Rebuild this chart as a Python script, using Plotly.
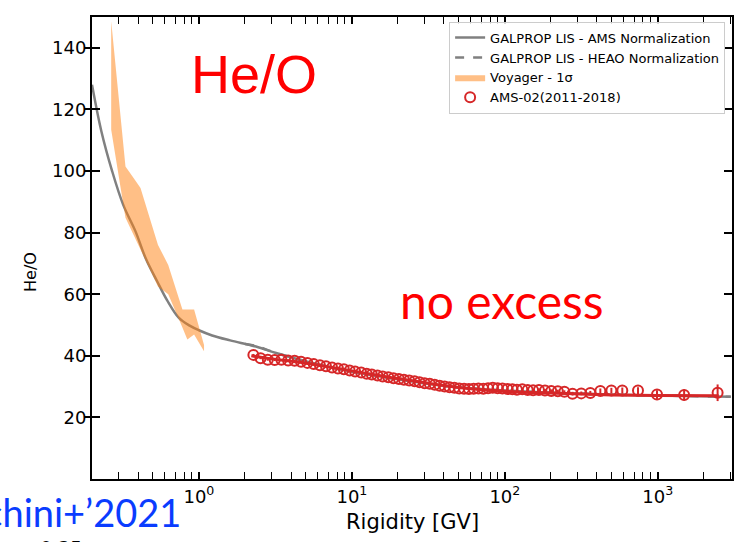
import plotly.graph_objects as go

# GALPROP LIS curves
gal_R = [0.2, 0.23, 0.271, 0.32, 0.385, 0.45, 0.533, 0.62, 0.74, 0.87, 1.0, 1.22, 1.6, 2.36, 3.2, 4.9, 7.5, 11, 20, 40, 80, 200, 500, 1000, 3000]
gal_ams = [128, 113, 99.9, 89, 80.4, 71.5, 64.2, 58.0, 52.3, 49.8, 48.3, 46.6, 45.0, 43.0, 40.9, 38.3, 36.1, 34.5, 32.4, 30.2, 29.0, 28.0, 27.4, 27.1, 26.7]
heao_R = [2.0, 2.36, 3.2, 4.9, 7.5, 11, 20, 40, 80, 200, 500, 1000, 3000]
heao_vals = [43.8, 43.2, 40.9, 38.3, 36.1, 34.5, 32.4, 30.2, 29.0, 28.0, 27.4, 27.1, 26.7]

# Voyager 1-sigma band
voy_R = [0.267, 0.331, 0.376, 0.415, 0.54, 0.63, 0.78, 0.84, 0.93, 1.08]
voy_hi = [148.6, 101.5, 97.6, 94.5, 76.0, 69.5, 55.0, 55.0, 55.0, 43.5]
voy_lo = [113.4, 84.8, 78.8, 74.5, 62.5, 60.0, 49.2, 45.3, 46.9, 41.5]

# AMS-02 (2011-2018)
ams_R = [2.27, 2.53, 2.82, 3.13, 3.46, 3.83, 4.22, 4.65, 5.12, 5.63, 6.18, 6.77, 7.42, 8.11, 8.86, 9.67,
         10.5, 11.5, 12.5, 13.5, 14.7, 15.9, 17.3, 18.7, 20.3, 21.9, 23.7, 25.7, 27.7, 29.9, 32.3, 34.8,
         37.5, 40.4, 43.5, 46.8, 50.3, 54.1, 58.2, 62.5, 67.2, 72.3, 77.7, 83.4, 89.7, 96.4, 104, 112,
         120, 130, 141, 153, 167, 183, 201, 222, 245, 277, 316, 362, 421, 497, 586, 742, 988, 1486, 2460]
ams_val = [40.3, 39.2, 38.7, 38.6, 38.7, 38.5, 38.4, 38.1, 37.7, 37.3, 36.9, 36.6, 36.2, 35.9, 35.6, 35.2,
           34.9, 34.6, 34.2, 33.9, 33.6, 33.3, 33.0, 32.7, 32.5, 32.2, 32.0, 31.7, 31.4, 31.1, 30.9, 30.6,
           30.3, 30.0, 29.8, 29.6, 29.4, 29.3, 29.2, 29.3, 29.4, 29.3, 29.5, 29.6, 29.5, 29.4, 29.2, 29.1,
           29.0, 29.1, 28.9, 28.8, 28.9, 28.7, 28.6, 28.5, 28.3, 27.7, 27.8, 27.9, 28.6, 28.7, 28.7, 28.7, 27.4, 27.3, 28.0]
ams_err = [0.3, 0.3, 0.3, 0.3, 0.3, 0.3, 0.3, 0.3, 0.3, 0.3, 0.3, 0.3, 0.3, 0.3, 0.3, 0.3,
           0.3, 0.3, 0.3, 0.3, 0.3, 0.3, 0.3, 0.3, 0.3, 0.3, 0.3, 0.3, 0.3, 0.3, 0.3, 0.3,
           0.3, 0.3, 0.3, 0.3, 0.3, 0.3, 0.3, 0.3, 0.3, 0.3, 0.3, 0.3, 0.3, 0.4, 0.4, 0.4,
           0.4, 0.4, 0.4, 0.4, 0.5, 0.5, 0.5, 0.5, 0.5, 0.6, 0.6, 0.7, 0.8, 0.9, 1.0, 1.1, 1.4, 1.8, 2.7]

# Fit through AMS data
fit_R = [2.2, 3, 5, 10, 20, 50, 100, 200, 500, 1000, 2500]
fit_val = [40.0, 39.0, 37.6, 35.1, 32.6, 29.7, 28.5, 27.9, 27.3, 27.1, 27.0]

major_vals = [1, 10, 100, 1000]
major_text = ["10<sup>0</sup>", "10<sup>1</sup>", "10<sup>2</sup>", "10<sup>3</sup>"]
minor_vals = [m * d for d in [0.1, 1, 10, 100, 1000] for m in range(2, 10)]
y_ticks = [20, 40, 60, 80, 100, 120, 140]

RED = "#d62728"
GRAY = "#808080"

fig = go.Figure()

fig.add_trace(go.Scatter(x=gal_R, y=gal_ams, mode="lines", line=dict(color=GRAY, width=2.5, shape="spline"),
                         name="GALPROP LIS - AMS Normalization"))
fig.add_trace(go.Scatter(x=heao_R, y=heao_vals, mode="lines", line=dict(color=GRAY, width=2.5, dash="dash", shape="spline"),
                         name="GALPROP LIS - HEAO Normalization"))
fig.add_trace(go.Scatter(x=voy_R + voy_R[::-1], y=voy_hi + voy_lo[::-1], mode="lines", fill="toself",
                         fillcolor="rgba(255,127,14,0.5)", line=dict(width=0, color="rgba(255,127,14,0)"),
                         name="Voyager - 1σ"))
fig.add_trace(go.Scatter(x=fit_R, y=fit_val, mode="lines", line=dict(color=RED, width=3, shape="spline"),
                         showlegend=False, hoverinfo="skip"))
fig.add_trace(go.Scatter(x=ams_R, y=ams_val, mode="markers",
                         marker=dict(symbol="circle-open", size=10, color=RED, line=dict(width=2, color=RED)),
                         error_y=dict(type="data", array=ams_err, color=RED, thickness=2, width=0),
                         name="AMS-02(2011-2018)"))
fig.add_trace(go.Scatter(x=[], y=[], yaxis="y2", showlegend=False, hoverinfo="skip"))

axis_font = dict(family="DejaVu Sans", size=18, color="black")

fig.update_layout(
    width=735, height=542,
    margin=dict(l=92, r=3, t=17, b=63, autoexpand=False),
    paper_bgcolor="white", plot_bgcolor="white",
    font=dict(family="DejaVu Sans", color="black"),
    showlegend=True,
    legend=dict(x=0.558, y=0.99, xanchor="left", yanchor="top",
                font=dict(family="DejaVu Sans", size=13, color="black"),
                bgcolor="rgba(255,255,255,0.85)", bordercolor="#cccccc", borderwidth=1,
                tracegroupgap=0, itemwidth=30),
    xaxis=dict(type="log", range=[-0.699, 3.485], showgrid=False, zeroline=False, automargin=False,
               showline=True, linecolor="black", linewidth=2, mirror="allticks",
               ticks="inside", ticklen=7, tickwidth=1.5, tickcolor="black",
               tickvals=major_vals, ticktext=major_text, tickfont=axis_font,
               minor=dict(tickvals=minor_vals, ticks="inside", ticklen=4, tickwidth=1.2, tickcolor="black", showgrid=False)),
    yaxis=dict(range=[0, 150], showgrid=False, zeroline=False, automargin=False,
               showline=True, linecolor="black", linewidth=2, mirror="ticks",
               ticks="inside", ticklen=8, tickwidth=1.5, tickcolor="black",
               tickvals=y_ticks, tickfont=axis_font),
    yaxis2=dict(range=[0, 150], overlaying="y", side="left", showgrid=False, zeroline=False, automargin=False,
                showline=False, ticks="outside", ticklen=7, tickwidth=1.5, tickcolor="black",
                tickvals=y_ticks, showticklabels=False),
)

fig.add_annotation(text="He/O", xref="paper", yref="paper", x=0.151, y=0.876, xanchor="left", yanchor="middle",
                   showarrow=False, font=dict(family="Liberation Sans", size=54, color="#ff0000"))
fig.add_annotation(text="no excess", xref="paper", yref="paper", x=0.478, y=0.387, xanchor="left", yanchor="middle",
                   showarrow=False, font=dict(family="Lato", size=48, color="#ff0000"))
fig.add_annotation(text="Boschini+’2021", xref="paper", yref="paper", x=0.142, y=-0.071, xanchor="right", yanchor="middle",
                   showarrow=False, font=dict(family="Lato", size=38, color="#0a3cff"))
fig.add_annotation(text="0.25", xref="paper", yref="paper", x=-0.048, y=-0.121, xanchor="center", yanchor="top",
                   showarrow=False, font=dict(family="DejaVu Sans", size=19, color="black"))
fig.add_annotation(text="He/O", xref="paper", yref="paper", x=-0.097, y=0.448, xanchor="center", yanchor="middle",
                   textangle=-90, showarrow=False, font=dict(family="DejaVu Sans", size=16, color="black"))
fig.add_annotation(text="Rigidity [GV]", xref="paper", yref="paper", x=0.5, y=-0.093, xanchor="center", yanchor="middle",
                   showarrow=False, font=dict(family="DejaVu Sans", size=21, color="black"))

fig.write_html("out.html", config={"displayModeBar": False},
               post_script="document.body.style.margin='0';document.body.style.overflow='hidden';")
